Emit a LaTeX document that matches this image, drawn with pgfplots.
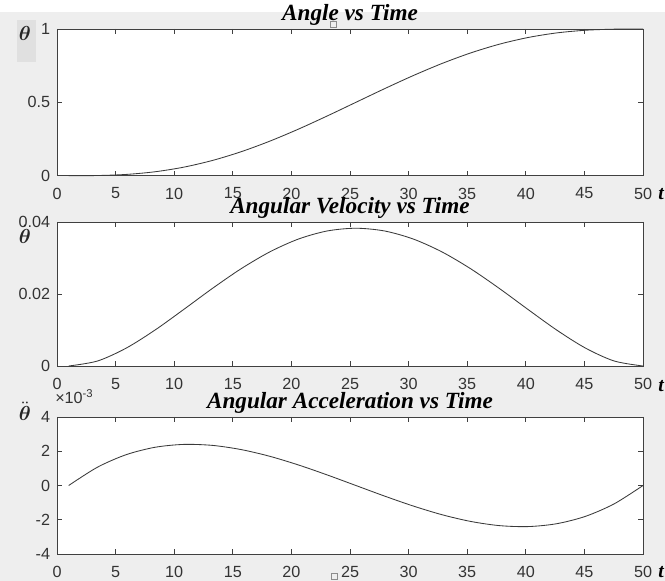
\documentclass[border=0pt]{standalone}
\usepackage{fontspec}
\setmainfont{Liberation Sans}
\newfontfamily\titlefont{Liberation Serif}
\usepackage{amsmath}
\usepackage{pgfplots}
\pgfplotsset{compat=1.18}

\definecolor{figbg}{HTML}{EEEEEE}
\definecolor{curve}{HTML}{3A3A3A}

% quintic profile, t = 1 ... 50; acc stored in units of 1e-3
\pgfplotstableread{
t      theta     vel       acc
1      0         0         0
3.45   0.001158  0.001381  1.068
5.9    0.00856   0.004959  1.799
8.35   0.026612  0.009953  2.230
10.8   0.05792   0.015673  2.399
13.25  0.103516  0.021524  2.343
15.7   0.16308   0.027000  2.099
18.15  0.235169  0.031688  1.706
20.6   0.31744   0.035265  1.1995
23.05  0.406873  0.037504  0.618
25.5   0.5       0.038265  0
27.95  0.593127  0.037504  -0.618
30.4   0.68256   0.035265  -1.1995
32.85  0.764831  0.031688  -1.706
35.3   0.83692   0.027000  -2.099
37.75  0.896484  0.021524  -2.343
40.2   0.94208   0.015673  -2.399
42.65  0.973388  0.009953  -2.230
45.1   0.99144   0.004959  -1.799
47.55  0.998842  0.001381  -1.068
50     1         0         0
}\motion

\tikzset{
  tlabel/.style={font=\titlefont\bfseries\itshape\fontsize{14}{14}\selectfont},
  thlabel/.style={font=\fontsize{14}{14}\selectfont, text=black!85},
}

\pgfplotsset{
  mplot/.style={
    scale only axis, width=14.65cm,
    xmin=0, xmax=50, xtick={0,5,...,50},
    tick align=inside, xtick pos=both, ytick pos=both,
    xticklabel pos=lower, yticklabel pos=left,
    major tick length=0.12cm,
    axis line style={black!75, line width=0.6pt},
    every tick/.style={black!75, line width=0.6pt},
    tick label style={font=\fontsize{11.5}{12}\selectfont, text=black!80},
    xticklabel style={yshift=-0.18cm},
    yticklabel style={xshift=-0.05cm},
    /pgf/number format/assume math mode=true,
    scaled ticks=false,
    title style={font=\titlefont\bfseries\itshape\fontsize{16.5}{17}\selectfont,
      at={(0.5,1)}, anchor=base},
    axis background/.style={fill=white},
    clip=false,
  },
}

\begin{document}
\begin{tikzpicture}
\useasboundingbox (0,0) rectangle (16.625cm,14.525cm);
\clip (0,0) rectangle (16.625cm,14.525cm);
\fill[figbg] (0,0) rectangle (16.625cm,14.525cm);
\fill[white] (0,14.225cm) rectangle (16.625cm,14.525cm);
% selection box behind the first label
\fill[black!12] (0.425cm,12.975cm) rectangle (0.9cm,14.025cm);

% Angle
\begin{axis}[mplot, at={(1.425cm,10.1325cm)}, anchor=south west, height=3.6675cm,
  ymin=0, ymax=1, ytick={0,0.5,1},
  title={Angle vs Time}]
\addplot[curve, line width=0.6pt, smooth] table[x=t, y=theta] {\motion};
\node[thlabel] at ([xshift=-0.8cm, yshift=-0.1cm]rel axis cs:0,1) {$\boldsymbol{\theta}$};
\node[tlabel] at ([xshift=0.45cm, yshift=-0.45cm]rel axis cs:1,0) {t};
\end{axis}

% Angular velocity
\begin{axis}[mplot, at={(1.425cm,5.375cm)}, anchor=south west, height=3.6cm,
  ymin=0, ymax=0.04, ytick={0,0.02,0.04},
  yticklabel style={/pgf/number format/fixed, /pgf/number format/precision=2},
  title={Angular Velocity vs Time}]
\addplot[curve, line width=0.6pt, smooth] table[x=t, y=vel] {\motion};
\node[thlabel] at ([xshift=-0.8cm, yshift=-0.3cm]rel axis cs:0,1) {$\dot{\boldsymbol{\theta}}$};
\node[tlabel] at ([xshift=0.45cm, yshift=-0.5cm]rel axis cs:1,0) {t};
\end{axis}

% Angular acceleration
\begin{axis}[mplot, at={(1.425cm,0.675cm)}, anchor=south west, height=3.425cm,
  ymin=-4, ymax=4, ytick={-4,-2,0,2,4},
  title={Angular Acceleration vs Time}]
\addplot[curve, line width=0.6pt, smooth] table[x=t, y=acc] {\motion};
\node[thlabel] at ([xshift=-0.8cm, yshift=0.15cm]rel axis cs:0,1) {$\ddot{\boldsymbol{\theta}}$};
\node[anchor=west, font=\fontsize{11.5}{12}\selectfont, text=black!80, inner sep=0pt]
  at ([xshift=-0.05cm, yshift=0.5cm]rel axis cs:0,1) {×10\textsuperscript{-3}};
\node[tlabel] at ([xshift=0.45cm, yshift=-0.45cm]rel axis cs:1,0) {t};
\end{axis}

% small marker artefacts
\draw[black!45, line width=0.4pt] (8.25cm,13.85cm) rectangle +(0.15cm,0.15cm);
\draw[black!45, line width=0.4pt] (8.27cm,0.05cm) rectangle +(0.15cm,0.15cm);
\end{tikzpicture}
\end{document}
